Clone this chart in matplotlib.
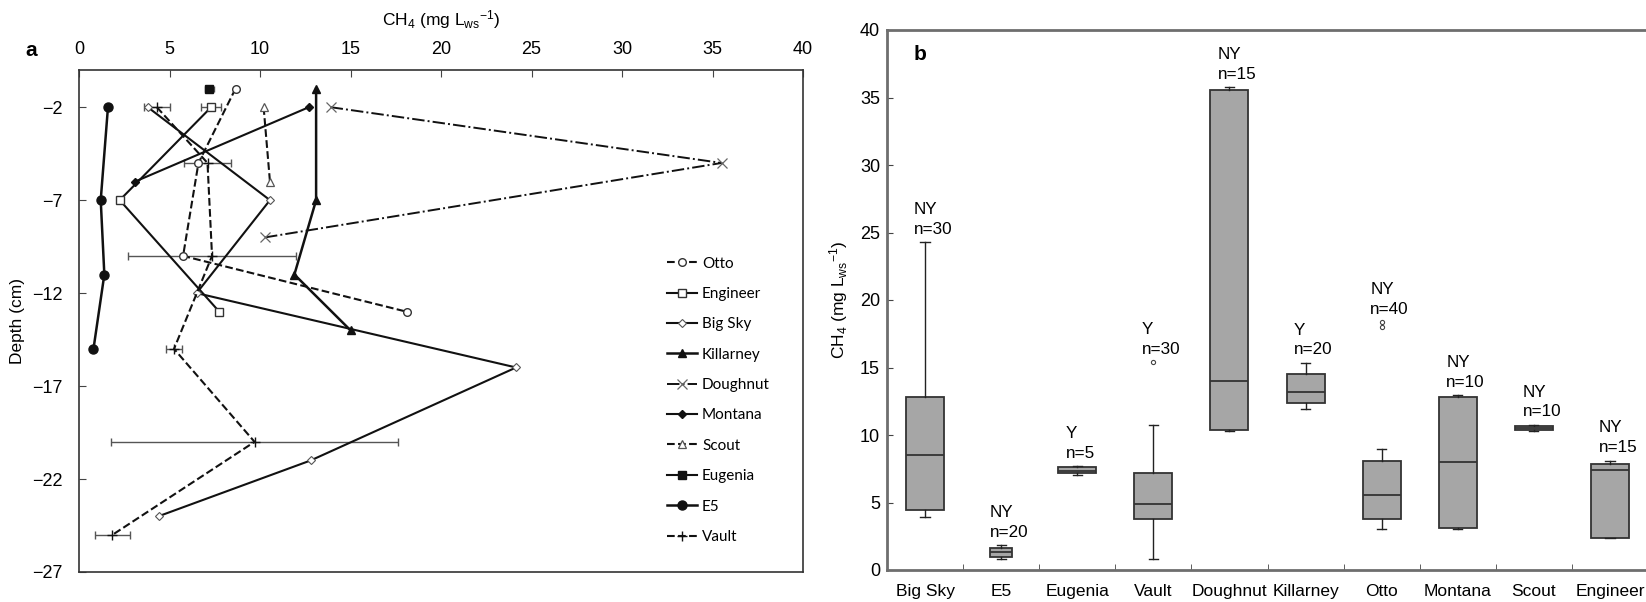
import numpy as np
import matplotlib
matplotlib.use('Agg')
from matplotlib import pyplot as plt

plt.rcParams['font.family'] = ['Liberation Sans', 'DejaVu Sans']
plt.rcParams['mathtext.fontset'] = 'custom'
plt.rcParams['mathtext.rm'] = 'Liberation Sans'
plt.rcParams['mathtext.it'] = 'Liberation Sans:italic'

# ---- panel a: depth profiles (CH4 in mg/L, depth in cm)
otto_x = [8.65, 6.6, 5.75, 18.1]
otto_d = [-1, -5, -10, -13]
engineer_x = [7.3, 2.25, 7.75]
engineer_d = [-2, -7, -13]
engineer_err = [0.55, 0, 0]
bigsky_x = [3.8, 10.55, 6.5, 24.15, 12.8, 4.4]
bigsky_d = [-2, -7, -12, -16, -21, -24]
killarney_x = [13.1, 13.1, 11.9, 15.0]
killarney_d = [-1, -7, -11, -14]
doughnut_x = [13.9, 35.5, 10.3]
doughnut_d = [-2, -5, -9]
montana_x = [12.7, 3.1]
montana_d = [-2, -6]
scout_x = [10.2, 10.55]
scout_d = [-2, -6]
eugenia_x = [7.2]
eugenia_d = [-1]
eugenia_err = [0.25]
e5_x = [1.6, 1.2, 1.4, 0.8]
e5_d = [-2, -7, -11, -15]
vault_x = [4.3, 7.1, 7.35, 5.25, 9.7, 1.85]
vault_d = [-2, -5, -10, -15, -20, -25]
vault_err = [0.7, 1.3, 4.65, 0.45, 7.95, 0.95]

# ---- panel b: box plot summaries per site
sites = ['Big Sky', 'E5', 'Eugenia', 'Vault', 'Doughnut', 'Killarney', 'Otto', 'Montana', 'Scout', 'Engineer']
whislo = [3.9, 0.8, 7.05, 0.8, 10.3, 11.9, 3.05, 3.05, 10.3, 2.4]
q1 = [4.45, 0.95, 7.15, 3.8, 10.4, 12.4, 3.8, 3.1, 10.35, 2.4]
med = [8.5, 1.35, 7.35, 4.9, 14.0, 13.15, 5.55, 8.0, 10.5, 7.4]
q3 = [12.8, 1.65, 7.6, 7.15, 35.55, 14.5, 8.1, 12.8, 10.7, 7.85]
whishi = [24.3, 1.85, 7.7, 10.75, 35.75, 15.35, 8.95, 12.95, 10.75, 8.1]
fliers = [[], [], [], [15.4], [], [], [18.0, 18.35], [], [], []]
normal = ['NY', 'NY', 'Y', 'Y', 'NY', 'Y', 'NY', 'NY', 'NY', 'NY']
n_obs = [30, 20, 5, 30, 15, 20, 40, 10, 10, 15]

fig = plt.figure(figsize=(16.46, 6.02), dpi=100)
W, H = 1646, 602

# ---------------- panel a
ax = fig.add_axes([79/W, 1-572/H, (803-79)/W, (572-70)/H])
k = '#111111'
ebar = dict(fmt='none', ecolor='#555', elinewidth=1, capsize=3)
ax.errorbar(engineer_x, engineer_d, xerr=engineer_err, **ebar)
ax.errorbar(eugenia_x, eugenia_d, xerr=eugenia_err, fmt='none', ecolor='#555', elinewidth=1, capsize=2)
ax.errorbar(vault_x, vault_d, xerr=vault_err, **ebar)

ax.plot(otto_x, otto_d, '--o', color=k, lw=1.5, ms=5.5, mfc='white', mec='#333', mew=1, label='Otto')
ax.plot(engineer_x, engineer_d, '-s', color=k, lw=1.5, ms=6, mfc='white', mec='#333', mew=1, label='Engineer')
ax.plot(bigsky_x, bigsky_d, '-D', color=k, lw=1.5, ms=4, mfc='white', mec='#555', mew=0.8, label='Big Sky')
ax.plot(killarney_x, killarney_d, '-^', color=k, lw=1.8, ms=6, label='Killarney')
ax.plot(doughnut_x, doughnut_d, '-.x', color=k, lw=1.4, ms=7, mec='#666', mew=0.9, label='Doughnut')
ax.plot(montana_x, montana_d, '-D', color=k, lw=1.5, ms=4, label='Montana')
ax.plot(scout_x, scout_d, '--^', color=k, lw=1.5, ms=6, mfc='white', mec='#555', mew=0.9, label='Scout')
ax.plot(eugenia_x, eugenia_d, '-s', color=k, lw=1.5, ms=6, label='Eugenia')
ax.plot(e5_x, e5_d, '-o', color=k, lw=1.8, ms=6.5, label='E5')
ax.plot(vault_x, vault_d, '--+', color=k, lw=1.5, ms=7, mew=1, label='Vault')

ax.set_xlim(0, 40)
ax.set_ylim(-27, 0)
ax.set_xticks(np.arange(0, 41, 5))
ax.set_yticks([-2, -7, -12, -17, -22, -27])
ax.xaxis.tick_top()
ax.tick_params(axis='x', direction='in', length=5, pad=9, labelsize=13, color='#444')
ax.tick_params(axis='y', direction='in', length=5, pad=12, labelsize=13, color='#444')
for s in ax.spines.values():
    s.set_color('#333')
    s.set_linewidth(1.2)
ax.set_ylabel('Depth (cm)', fontsize=12.5)
ax.yaxis.set_label_coords(-0.074, 0.5)
fig.text(441/W, 1-20/H, r'CH$_4$ (mg L$_{\mathrm{ws}}$$^{-1}$)', ha='center', va='center', fontsize=12.5)
fig.text(31/W, 1-51/H, 'a', ha='center', va='center', fontsize=15, fontweight='bold')

ax.legend(loc='upper left', bbox_to_anchor=(0.812, 0.628), frameon=False,
          prop={'family': 'Lato', 'size': 11}, handlelength=2.0, handletextpad=0.3,
          labelspacing=1.07, borderpad=0, borderaxespad=0)

# ---------------- panel b
bx = fig.add_axes([887/W, 1-570/H, (1648-887)/W, (570-30)/H])
stats = []
for i in range(len(sites)):
    stats.append({'med': med[i], 'q1': q1[i], 'q3': q3[i], 'whislo': whislo[i],
                  'whishi': whishi[i], 'fliers': fliers[i], 'label': sites[i]})
widths = [0.5] * len(sites)
widths[1] = 0.28
bx.bxp(stats, positions=range(len(sites)), widths=widths, patch_artist=True, capwidths=0.12,
       boxprops=dict(facecolor='#a6a6a6', edgecolor='#333', linewidth=1.3),
       medianprops=dict(color='#333', linewidth=1.3),
       whiskerprops=dict(color='#222', linewidth=1),
       capprops=dict(color='#222', linewidth=1),
       flierprops=dict(marker='o', ms=3, mfc='none', mec='#444', mew=0.8))

for i in range(len(sites)):
    top = max([whishi[i]] + fliers[i])
    bx.text(i - 0.15, top + 0.4, f'{normal[i]}\nn={n_obs[i]}', ha='left', va='bottom',
            fontsize=12.3, linespacing=1.4)

bx.set_xlim(-0.5, 9.5)
bx.set_ylim(0, 40)
bx.set_yticks(np.arange(0, 41, 5))
bx.set_xticks(range(len(sites)))
bx.set_xticklabels(sites)
bx.set_xticks(np.arange(0.5, 9.5, 1), minor=True)
bx.tick_params(axis='x', which='major', length=0, pad=10, labelsize=12.5)
bx.tick_params(axis='x', which='minor', direction='in', length=4, color='#444')
bx.tick_params(axis='y', direction='in', length=4, pad=5, labelsize=13, color='#444')
for s in bx.spines.values():
    s.set_color('#6e6e6e')
    s.set_linewidth(2)
bx.spines['right'].set_visible(False)
bx.set_ylabel(r'CH$_4$ (mg L$_{\mathrm{ws}}$$^{-1}$)', fontsize=12.5)
bx.yaxis.set_label_coords(-0.049, 0.5)
bx.text(0.043, 0.955, 'b', transform=bx.transAxes, ha='center', va='center', fontsize=15, fontweight='bold')

fig.savefig('out.png', dpi=100)
